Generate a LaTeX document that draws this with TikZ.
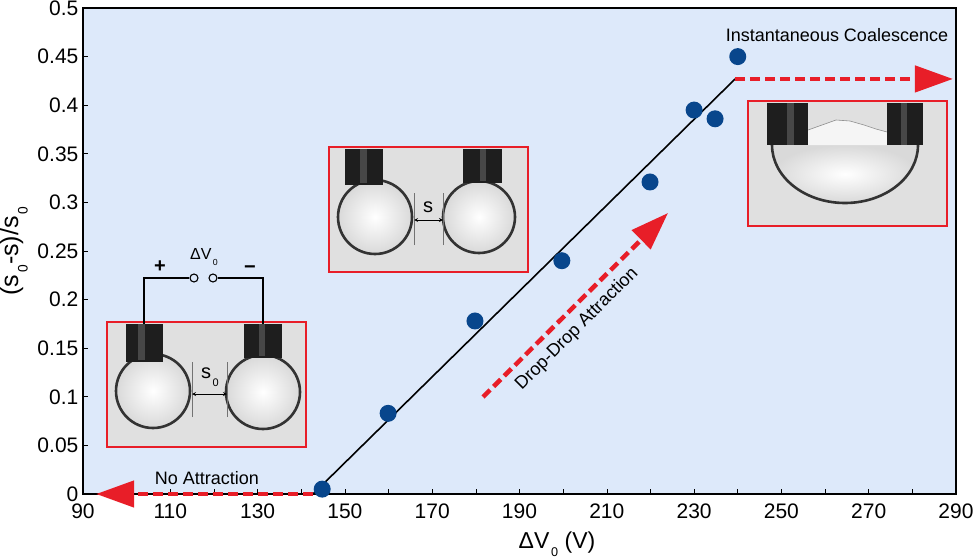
\documentclass[tikz,border=0pt]{standalone}
\usepackage{fontspec}
\setmainfont{Liberation Sans}
\usepackage{graphicx}
\usetikzlibrary{arrows.meta, positioning}

\definecolor{plotbg}{RGB}{221,233,250}
\definecolor{dotblue}{RGB}{8,70,140}
\definecolor{flowred}{RGB}{232,30,40}
\definecolor{photogray}{RGB}{224,224,224}
\definecolor{tubeblack}{RGB}{30,30,30}

\newcommand{\lowsub}[1]{\kern0.08em\raisebox{-0.38em}{\scalebox{0.55}{#1}}}

\tikzset{
  datapt/.style={circle, fill=dotblue, inner sep=0pt, minimum size=17pt},
  flow/.style={flowred, line width=4.5pt, dash pattern=on 10pt off 5pt,
    -{Triangle[length=38pt, width=26pt]}},
  inset/.style={draw=flowred, line width=2pt, fill=photogray, inner sep=0pt,
    anchor=south west, minimum width=199pt, minimum height=125pt},
  tube/.style={fill=tubeblack},
  tubeshine/.style={fill=black!72},
  drop/.style={draw=black!80, line width=2.6pt, inner color=white, outer color=gray!30},
  gapline/.style={draw=black!55, line width=0.5pt},
  note/.style={font=\fontsize{18}{18}\selectfont},
  wire/.style={line width=2.8pt},
  terminal/.style={circle, draw, line width=1.1pt, fill=plotbg, inner sep=0pt, minimum size=8pt},
}

\begin{document}
\begin{tikzpicture}[x=1pt, y=1pt, >=stealth, semithick,
    font=\fontsize{21}{21}\selectfont]
  \useasboundingbox (0,0) rectangle (973,558);
  \fill[plotbg] (83,64) rectangle (956,550);

  % inset: drops at rest, with the supply
  \node[inset] (ph0) at (106,110) {};
  \draw[drop] (153,167) circle (37);
  \draw[drop] (263,166) circle (37);
  \fill[tube] (126,196) rectangle (163,234);
  \fill[tube] (244,200) rectangle (282,234);
  \fill[tubeshine] (138,198) rectangle (145,234);
  \fill[tubeshine] (259,202) rectangle (265,234);
  \draw[gapline] (192,141) -- (192,196);
  \draw[gapline] (227,141) -- (227,196);
  \coordinate (g0a) at (192,164);
  \coordinate (g0b) at (227,164);
  \draw[<->, line width=0.8pt] (g0a) -- (g0b);
  \node[font=\fontsize{20}{20}\selectfont] (gap0) at (210,181) {s\lowsub{0}};

  \node[terminal] (tplus) at (194,280) {};
  \node[terminal] (tminus) at (213,280) {};
  \coordinate (n0l) at (144,234);
  \coordinate (n0r) at (263,234);
  \draw[wire] (n0l) |- (tplus);
  \draw[wire] (n0r) |- (tminus);
  \node[font=\bfseries\fontsize{20}{20}\selectfont] (plus) at (160,291) {+};
  \node[font=\bfseries\fontsize{20}{20}\selectfont] (minus) at (250,288) {\char"2212};
  \node[font=\fontsize{16}{16}\selectfont] (volt) at (204,301) {ΔV\lowsub{0}};

  % inset: drops drawn together
  \node[inset] (ph1) at (328,285) {};
  \draw[drop] (375,341) circle (37);
  \draw[drop] (479,341) circle (36);
  \fill[tube] (345,373) rectangle (383,409);
  \fill[tube] (463,375) rectangle (502,409);
  \fill[tubeshine] (360,375) rectangle (367,409);
  \fill[tubeshine] (480,377) rectangle (486,409);
  \draw[gapline] (414,313) -- (414,365);
  \draw[gapline] (443,313) -- (443,365);
  \coordinate (g1a) at (414,338);
  \coordinate (g1b) at (443,338);
  \draw[<->, line width=0.8pt] (g1a) -- (g1b);
  \node[font=\fontsize{20}{20}\selectfont] (gap1) at (428,351) {s};

  % inset: merged drop
  \node[inset] (ph2) at (747,331) {};
  \shade[inner color=white, outer color=gray!30]
    (772,413) arc[start angle=180, end angle=360, x radius=73, y radius=58] -- cycle;
  \fill[white!92!gray] (808,413) -- (808,428) -- (822,433) -- (836,438) -- (850,437)
    -- (864,433) -- (876,429) -- (887,426) -- (887,413) -- cycle;
  \draw[black!45, line width=0.6pt] (808,428) -- (822,433) -- (836,438) -- (850,437)
    -- (864,433) -- (876,429) -- (887,426);
  \draw[black!80, line width=2.6pt]
    (772,413) arc[start angle=180, end angle=360, x radius=73, y radius=58];
  \fill[tube] (767,413) rectangle (808,455);
  \fill[tube] (887,413) rectangle (923,455);
  \fill[tubeshine] (787,413) rectangle (794,455);
  \fill[tubeshine] (901,413) rectangle (907,455);

  % plot in data units
  \begin{scope}[x=4.365pt, y=972pt, shift={(-309.85pt,64pt)}]
    \foreach \v in {100,110,...,280}
      \draw (\v,0) -- ++(0,5pt);
    \foreach \k in {1,...,9}
      \draw (90,\k*0.05) -- ++(5pt,0);
    \draw[line width=1.2pt] (90,0) rectangle (290,0.5);
    \foreach \v in {90,110,...,290}
      \node[below=6pt] at (\v,0) {\v};
    \foreach \t in {0,0.05,0.1,0.15,0.2,0.25,0.3,0.35,0.4,0.45,0.5}
      \node[left=1pt] at (90,\t) {\t};

    \coordinate (fit0) at (142.7,0);
    \coordinate (fit1) at (239.4,0.427);
    \coordinate (noatt) at (93,0);
    \coordinate (inst) at (289.3,0.427);
    \draw[line width=1.6pt] (fit0) -- (fit1);
    \draw[flow] (fit0) -- (noatt);
    \draw[flow] (fit1) -- (inst);

    \node[datapt] (p1) at (144.8,0.005) {};
    \node[datapt] (p2) at (159.9,0.083) {};
    \node[datapt] (p3) at (179.8,0.178) {};
    \node[datapt] (p4) at (199.7,0.240) {};
    \node[datapt] (p5) at (219.9,0.321) {};
    \node[datapt] (p6) at (230.0,0.395) {};
    \node[datapt] (p7) at (234.8,0.386) {};
    \node[datapt] (p8) at (240.0,0.450) {};
  \end{scope}

  \coordinate (dd0) at (483,161);
  \coordinate (dd1) at (668,345);
  \draw[flow] (dd0) -- (dd1);
  \node[note, rotate=45] (ddtext) at (577,229) {Drop-Drop Attraction};
  \node[note] (natext) at (207,80) {No Attraction};
  \node[note] (ictext) at (837,523) {Instantaneous Coalescence};

  \node[font=\fontsize{23}{23}\selectfont, anchor=base] (xtitle) at (557,10) {ΔV\lowsub{0} (V)};
  \node[font=\fontsize{25}{25}\selectfont, rotate=90, anchor=base] (ytitle) at (18,307)
    {(s\lowsub{0}-s)/s\lowsub{0}};
\end{tikzpicture}
\end{document}
